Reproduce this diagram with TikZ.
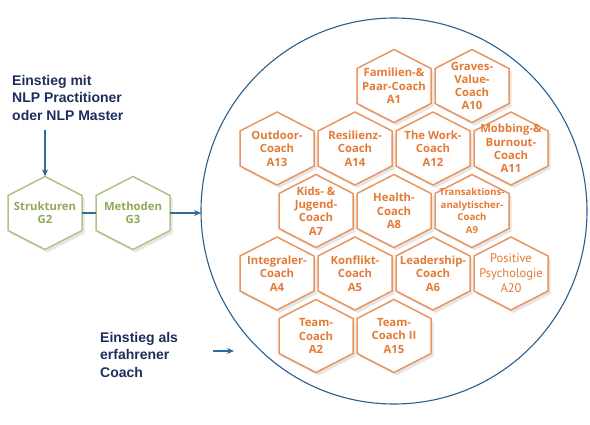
\documentclass[tikz,border=0pt]{standalone}
\usepackage{fontspec}
\setmainfont{Liberation Sans}
\newfontfamily\hexfont{PT Sans}
\newfontfamily\hexbold{Open Sans}
\usetikzlibrary{shadows,backgrounds,arrows.meta}
\definecolor{hexorange}{HTML}{EA9460}
\definecolor{textorange}{HTML}{E47A36}
\definecolor{hexgreen}{HTML}{AFC386}
\definecolor{textgreen}{HTML}{8EA959}
\definecolor{arrowblue}{HTML}{2F6A9C}
\definecolor{circleblue}{HTML}{2A5E8C}
\definecolor{navy}{HTML}{1E2E5C}
\begin{document}
\begin{tikzpicture}[x=1pt,y=-1pt,
  hexnode/.style={minimum width=74pt, minimum height=73pt, inner sep=0pt, align=center,
    font=\hexbold\bfseries\fontsize{11.3}{13.3}\selectfont, text=textorange},
  greennode/.style={hexnode, text=textgreen},
  hexpath/.style={insert path={(0,-36.5) -- (37,-17.5) -- (37,17.5) -- (0,36.5) -- (-37,17.5) -- (-37,-17.5) -- cycle}},
  orangehex/.style={draw=hexorange, line width=1.5pt, fill=white, line join=miter,
    drop shadow={opacity=0.2, shadow xshift=2.5pt, shadow yshift=-3pt}},
  greenhex/.style={orangehex, draw=hexgreen},
  bluearrow/.style={draw=arrowblue, line width=1.2pt, -{Stealth[length=7pt,width=6pt]}},
  blueline/.style={draw=arrowblue, line width=1.2pt},
  label/.style={font=\bfseries\fontsize{14}{17.5}\selectfont, text=navy, align=left, inner sep=0pt}
]
\useasboundingbox (0,0) rectangle (590,424);

% texts
\node[label, anchor=west] (t1) at (12,97.5) {Einstieg mit\\NLP Practitioner\\oder NLP Master};
\node[label, anchor=west] (t2) at (100,354.5) {Einstieg als\\erfahrener\\Coach};

% green hexes
\node[greennode] (G2) at (45,213) {Strukturen\\G2};
\node[greennode] (G3) at (133,213) {Methoden\\G3};

% orange hexes
\node[hexnode] (A1)  at (394,86)  {Familien-\&\\Paar-Coach\\A1};
\node[hexnode] (A10) at (472,86)  {Graves-\\Value-\\Coach\\A10};
\node[hexnode] (A13) at (277,148.5) {Outdoor-\\Coach\\A13};
\node[hexnode] (A14) at (355,148.5) {Resilienz-\\Coach\\A14};
\node[hexnode] (A12) at (433,148.5) {The Work-\\Coach\\A12};
\node[hexnode] (A11) at (511,148.5) {Mobbing-\&\\Burnout-\\Coach\\A11};
\node[hexnode] (A7)  at (316,211) {Kids- \&\\Jugend-\\Coach\\A7};
\node[hexnode] (A8)  at (394,211) {Health-\\Coach\\A8};
\node[hexnode, font=\hexbold\bfseries\fontsize{9.6}{12.5}\selectfont] (A9) at (472,211) {Transaktions-\\analytischer-\\Coach\\A9};
\node[hexnode] (A4)  at (277,273.5) {Integraler-\\Coach\\A4};
\node[hexnode] (A5)  at (355,273.5) {Konflikt-\\Coach\\A5};
\node[hexnode] (A6)  at (433,273.5) {Leadership-\\Coach\\A6};
\node[hexnode, font=\hexfont\fontsize{12.5}{15}\selectfont] (A20) at (511,273.5) {Positive\\Psychologie\\A20};
\node[hexnode] (A2)  at (316,336) {Team-\\Coach\\A2};
\node[hexnode] (A15) at (394,336) {Team-\\Coach II\\A15};

% connectors
\coordinate (s1) at (45,130);
\coordinate (c1) at (201,213);
\coordinate (s2) at (213,351);
\coordinate (e2) at (234,351);
\draw[bluearrow] (s1) -- (G2.north);
\draw[blueline] (G2.east) -- (G3.west);
\draw[bluearrow] (G3.east) -- (c1);
\draw[bluearrow] (s2) -- (e2);

\begin{scope}[on background layer]
  \draw[circleblue, line width=1.1pt] (394,211) circle[radius=193];
  \foreach \n in {G2,G3} \path[greenhex, shift={(\n.center)}, hexpath];
  \foreach \n in {A1,A10,A13,A14,A12,A11,A7,A8,A9,A4,A5,A6,A20,A2,A15}
    \path[orangehex, shift={(\n.center)}, hexpath];
\end{scope}
\end{tikzpicture}
\end{document}
